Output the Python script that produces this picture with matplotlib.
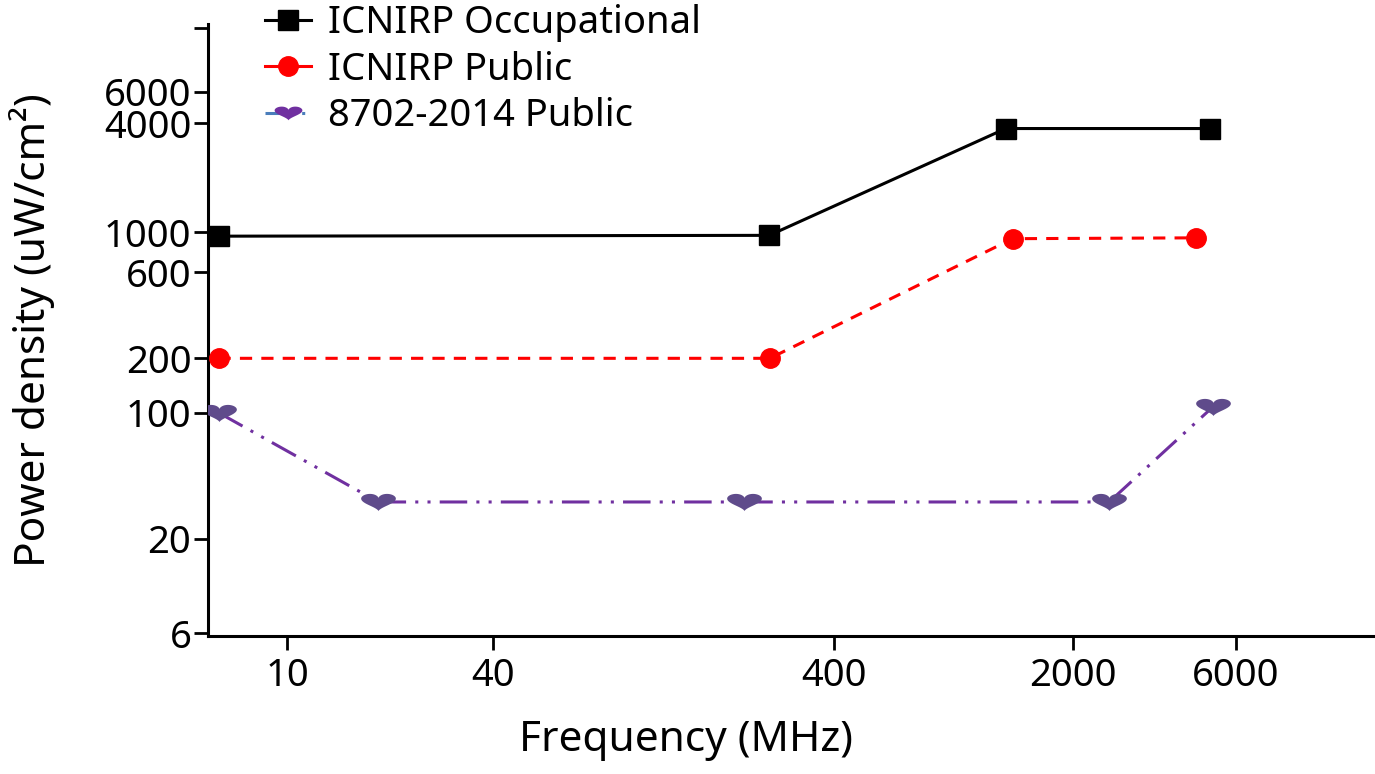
import matplotlib
matplotlib.use("Agg")
import matplotlib.pyplot as plt
import numpy as np
from matplotlib.lines import Line2D
from matplotlib.path import Path
from matplotlib.ticker import FixedLocator, FixedFormatter, NullLocator

plt.rcParams["font.family"] = ["Noto Sans", "DejaVu Sans"]

# values (MHz, uW/cm^2)
occ_freq = [6.3, 258, 1270, 5040]
occ_pd = [950, 960, 3750, 3750]
pub_freq = [6.3, 259, 1330, 4590]
pub_pd = [200, 200, 920, 930]
gb_freq = [6.3, 18.5, 218, 2550, 5140]
gb_pd = [100, 32, 32, 32, 108]

x_ticks = [10, 40, 400, 2000, 6000]
y_ticks = [6, 20, 100, 200, 600, 1000, 4000, 6000, 13500]
y_labels = ["6", "20", "100", "200", "600", "1000", "4000", "6000", ""]


def heart_marker():
    t = np.linspace(0, 2 * np.pi, 80)
    x = 16 * np.sin(t) ** 3
    y = 13 * np.cos(t) - 5 * np.cos(2 * t) - 2 * np.cos(3 * t) - np.cos(4 * t)
    y = (y + 2.5) * 0.55
    verts = np.column_stack([x, y])
    codes = [Path.MOVETO] + [Path.LINETO] * (len(verts) - 2) + [Path.CLOSEPOLY]
    return Path(verts, codes)


HEART = heart_marker()

fig = plt.figure(figsize=(13.75, 7.74), dpi=100)
ax = fig.add_axes([0.1513, 0.1783, 0.8487, 0.7907])

ax.plot(occ_freq, occ_pd, color="black", lw=2.2, marker="s", ms=15,
        mec="black", mfc="black", zorder=3)
ax.plot(pub_freq, pub_pd, color="#ff0000", lw=2.2, ls=(0, (4, 3)), marker="o",
        ms=14, mec="#ff0000", mfc="#ff0000", zorder=3)
ax.plot(gb_freq, gb_pd, color="#7030a0", lw=2.2, ls=(0, (9, 3, 1, 3, 1, 3)),
        zorder=2)
ax.plot(gb_freq, gb_pd, ls="none", marker=HEART, ms=25, mec="#5f4b8b",
        mfc="#5f4b8b", mew=0, zorder=3)

ax.set_xscale("log")
ax.set_yscale("log")
ax.set_xlim(5.87, 15300)
ax.set_ylim(5.79, 14230)

ax.xaxis.set_major_locator(FixedLocator(x_ticks))
ax.xaxis.set_major_formatter(FixedFormatter([str(v) for v in x_ticks]))
ax.xaxis.set_minor_locator(NullLocator())
ax.yaxis.set_major_locator(FixedLocator(y_ticks))
ax.yaxis.set_major_formatter(FixedFormatter(y_labels))
ax.yaxis.set_minor_locator(NullLocator())

for side in ["top", "right"]:
    ax.spines[side].set_visible(False)
for side in ["left", "bottom"]:
    ax.spines[side].set_linewidth(2.2)

ax.tick_params(axis="both", which="major", direction="out", length=10,
               width=2.0, labelsize=27.5, colors="black")
ax.tick_params(axis="x", pad=5)
ax.tick_params(axis="y", pad=2)
ax.xaxis.get_major_ticks()[0].tick1line.set_color("#002060")

ax.set_xlabel("Frequency (MHz)", fontsize=30.5)
ax.set_ylabel("Power density (uW/cm²)", fontsize=30.5)
ax.xaxis.set_label_coords(0.41, -0.135)
ax.yaxis.set_label_coords(-0.131, 0.5)

handles = [
    Line2D([], [], color="black", lw=2.2, marker="s", ms=15),
    Line2D([], [], color="#ff0000", lw=2.2, marker="o", ms=14),
    (Line2D([], [], color="#4a7ebb", lw=2.2, ls=(0, (9, 3, 1, 3))),
     Line2D([], [], ls="none", marker=HEART, ms=20, mfc="#7030a0",
            mec="#7030a0", mew=0)),
]
labels = ["ICNIRP Occupational", "ICNIRP Public", "8702-2014 Public"]
fig.legend(handles, labels, loc="upper left",
           bbox_to_anchor=(265 / 1375, 0.995), frameon=False, fontsize=27.5,
           handlelength=1.2, handletextpad=0.45, labelspacing=0.23,
           borderpad=0, borderaxespad=0)

fig.savefig("out.png", dpi=100)
